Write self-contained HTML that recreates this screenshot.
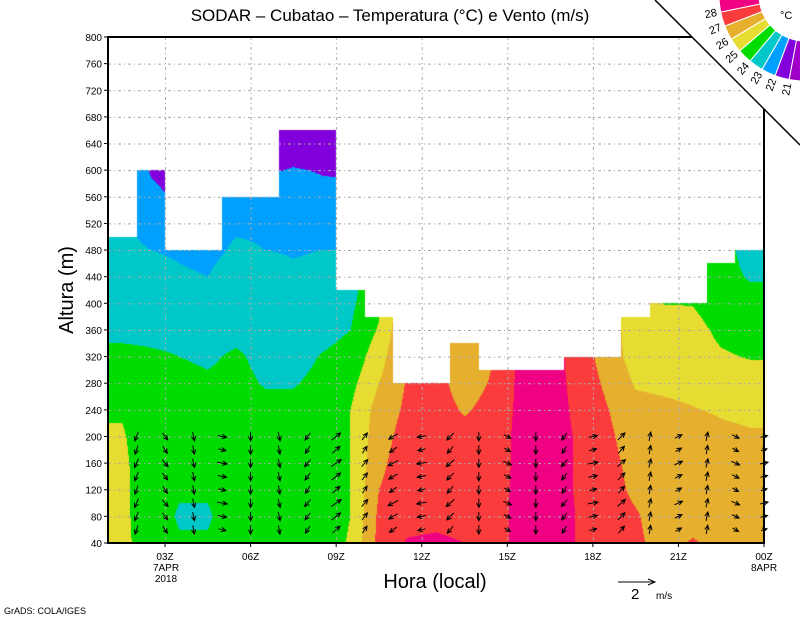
<!DOCTYPE html>
<html><head><meta charset="utf-8"><style>
body{margin:0;background:#fff;width:800px;height:618px;overflow:hidden;position:relative;font-family:"Liberation Sans",sans-serif}
svg{position:absolute;left:0;top:0}
canvas{position:absolute;left:0;top:0}
</style></head><body>
<canvas id="cv" width="800" height="618"></canvas>
<svg id="sv" width="800" height="618"></svg>
<script>
// ---- data ----
const hourStart = 1, hourEnd = 24;
const levels = [40,80,120,160,200,240,280,320,360,400,440,480,520,560,600,640,680];
const colTop = [500,600,480,480,560,560,660,660,420,380,280,280,340,300,300,300,320,320,380,400,400,460,480];
const T0  = [25.2,25.2,25.2,25.2,25.1,24.9,24.6,24.2,23.8,23.6,23.4,23.2,23.1];
const T1  = [24.6,24.5,24.5,24.4,24.4,24.3,24.2,24.1,23.8,23.6,23.3,23.0,22.7,22.3,21.9];
const T2  = [24.1,23.9,24.1,24.4,24.4,24.3,24.2,24.0,23.8,23.5,23.1,22.9,22.3,21.8,21.5];
const T3  = [24.1,23.9,24.1,24.4,24.3,24.2,24.1,23.9,23.7,23.4,23.0,22.8];
const T4  = [24.5,24.5,24.5,24.4,24.4,24.3,24.2,24.1,23.8,23.6,23.4,23.1,22.9,22.7];
const T5  = [24.5,24.5,24.4,24.4,24.3,24.2,23.95,23.8,23.6,23.4,23.3,23.0,22.9,22.7,21.9,21.6];
const T6  = [24.5,24.5,24.4,24.4,24.3,24.2,23.95,23.7,23.5,23.3,23.1,22.95,22.7,22.4,22.05,21.6,21.4];
const T7  = [24.5,24.5,24.5,24.4,24.4,24.3,24.2,24.05,23.7,23.4,23.2,23.0,22.6,22.2,21.95,21.6,21.4];
const T8  = [25.1,25.0,25.0,25.0,25.0,25.0,24.7,24.3,24.0,23.8,23.6,23.0,22.6,22.2,21.9,21.6];
const T9  = [27.3,27.2,27.0,26.8,26.6,26.4,26.0,25.6,25.1,24.8];
const T10 = [28.1,27.6,27.5,27.5,27.4,27.2,27.1];
const T11 = [28.2,27.7,27.6,27.6,27.5,27.4,27.3];
const T12 = [28.0,27.6,27.5,27.4,27.3,26.9,26.6,26.2,25.9];
const T13 = [27.6,27.6,27.6,27.5,27.5,27.3,27.1,27.0];
const T14 = [28.3,28.3,28.3,28.3,28.3,28.3,28.3,28.3];
const T15 = [28.4,28.4,28.4,28.4,28.4,28.4,28.4,28.4];
const T16 = [27.95,27.95,27.9,27.9,27.9,27.8,27.7,27.6];
const T17 = [27.5,27.5,27.4,27.3,27.2,27.05,26.8,26.5];
const T18 = [27.2,27.1,26.8,26.7,26.5,26.3,25.9,25.6,25.5,25.4];
const T19 = [26.6,26.5,26.5,26.5,26.5,26.2,25.8,25.5,25.3,24.98];
const T20 = [27.1,26.6,26.5,26.5,26.4,26.05,25.7,25.4,25.3,24.97];
const T21 = [26.7,26.5,26.4,26.3,26.2,25.9,25.5,25.1,24.8,24.5,24.2,24.2];
const T22 = [26.6,26.5,26.4,26.3,26.1,25.8,25.4,24.95,24.6,24.2,23.95,23.8];
const temps = [T0,T1,T2,T3,T4,T5,T6,T7,T8,T9,T10,T11,T12,T13,T14,T15,T16,T17,T18,T19,T20,T21,T22];
const bins = [21,22,23,24,25,26,27,28];
const colors = ['#a000c8','#8200dc','#00a0ff','#00c8c8','#00dc00','#e6dc32','#e6af2d','#fa3c3c','#f00082'];
const windHours = [2,3,4,5,6,7,8,9,10,11,12,13,14,15,16,17,18,19,20,21,22,23,24];
const windU = [-0.2,0.3,0.1,0.5,0.0,0.1,-0.3,0.5,0.3,-0.5,-0.5,-0.4,0.0,0.4,0.0,-0.3,0.5,0.4,0.1,0.4,0.1,0.4,0.4];
const windV = [-0.5,-0.4,-0.5,-0.1,-0.5,-0.5,-0.4,0.4,0.4,-0.3,-0.1,-0.4,-0.5,-0.2,-0.5,-0.4,0.1,0.4,0.5,0.2,0.5,-0.2,0.1];
const windLevels = [60,80,100,120,140,160,180,200];
const yTicks = [40,80,120,160,200,240,280,320,360,400,440,480,520,560,600,640,680,720,760,800];
const xTicks = [3,6,9,12,15,18,21,24];
const xTickLabels = ['03Z','06Z','09Z','12Z','15Z','18Z','21Z','00Z'];
const cbLabels = ['28','27','26','25','24','23','22','21'];

// ---- axes ----
const X0=108, X1=764, Y0=543, Y1=37;
const xs = h => X0 + (h-hourStart)/(hourEnd-hourStart)*(X1-X0);
const ys = m => Y0 - (m-40)/(800-40)*(Y0-Y1);
const hx = px => hourStart + (px-X0)/(X1-X0)*(hourEnd-hourStart);
const my = py => 40 + (Y0-py)/(Y0-Y1)*(800-40);

function tAt(c,r){const a=temps[c];return a[Math.min(r,a.length-1)];}
function hex(c){return [parseInt(c.substr(1,2),16),parseInt(c.substr(3,2),16),parseInt(c.substr(5,2),16)];}
const rgb = colors.map(hex);

// field
const cv=document.getElementById('cv'),ctx=cv.getContext('2d');
const img=ctx.createImageData(800,618);
const nC=temps.length;
for(let py=Y1;py<Y0;py++){
  const m=my(py+0.5);
  let rf=(m-40)/40; if(rf<0)rf=0; if(rf>levels.length-1)rf=levels.length-1;
  const r0=Math.floor(rf), r1=Math.min(r0+1,levels.length-1), fr=rf-r0;
  for(let px=X0;px<X1;px++){
    const h=hx(px+0.5);
    const col=Math.min(nC-1,Math.floor(h-hourStart));
    if(m>colTop[col])continue;
    let cf=(h-hourStart)-0.5; if(cf<0)cf=0; if(cf>nC-1)cf=nC-1;
    const c0=Math.floor(cf), c1=Math.min(c0+1,nC-1), fc=cf-c0;
    const v=(tAt(c0,r0)*(1-fc)+tAt(c1,r0)*fc)*(1-fr)+(tAt(c0,r1)*(1-fc)+tAt(c1,r1)*fc)*fr;
    let i=0;while(i<bins.length&&v>=bins[i])i++;
    const k=(py*800+px)*4;img.data[k]=rgb[i][0];img.data[k+1]=rgb[i][1];img.data[k+2]=rgb[i][2];img.data[k+3]=255;
  }
}
ctx.putImageData(img,0,0);

// svg
const NS='http://www.w3.org/2000/svg', sv=document.getElementById('sv');
function el(t,a,p){const e=document.createElementNS(NS,t);for(const k in a)e.setAttribute(k,a[k]);(p||sv).appendChild(e);return e;}
const grid=el('g',{stroke:'#aaa','stroke-width':1,'stroke-dasharray':'3,3,1,3'});


yTicks.forEach(v=>{if(v>40&&v<800)el('line',{x1:X0,x2:X1,y1:ys(v)+0.5,y2:ys(v)+0.5},grid);});
xTicks.forEach(v=>{if(v<24)el('line',{x1:xs(v)+0.5,x2:xs(v)+0.5,y1:Y1,y2:Y0},grid);});

// wind arrows
const wg=el('g',{stroke:'#000','stroke-width':1,fill:'none'});


const scale=35/2;
function arrow(x,y,u,v,g){
  const dx=u*scale,dy=-v*scale;const x1=x-dx/2,y1=y-dy/2,x2=x+dx/2,y2=y+dy/2;
  const a=Math.atan2(dy,dx),L=5;
  el('path',{d:`M${x1},${y1}L${x2},${y2}M${x2-L*Math.cos(a-0.45)},${y2-L*Math.sin(a-0.45)}L${x2},${y2}L${x2-L*Math.cos(a+0.45)},${y2-L*Math.sin(a+0.45)}`},g);
}
windHours.forEach((hh,i)=>{windLevels.forEach((lv,j)=>{
  const u=windU[i]*(1+0.15*((j%3)-1)), v=windV[i];
  const a=el('g',{},wg);
  
  
  arrow(xs(hh),ys(lv),u,v,a);
});});

// frame
const fr=el('rect',{x:X0,y:Y1,width:X1-X0,height:Y0-Y1,fill:'none',stroke:'#000','stroke-width':2});


const yl=el('g',{'font-size':10,'text-anchor':'end',fill:'#000'});


yTicks.forEach(v=>{const t=el('text',{x:102,y:ys(v)+4},yl);t.textContent=v;el('line',{x1:X0-4,x2:X0,y1:ys(v),y2:ys(v),stroke:'#000'},sv);});
const xl=el('g',{'font-size':10,'text-anchor':'middle',fill:'#000'});


xTicks.forEach((v,i)=>{const t=el('text',{x:xs(v),y:560},xl);t.textContent=xTickLabels[i];el('line',{x1:xs(v),x2:xs(v),y1:Y0,y2:Y0+4,stroke:'#000'},sv);});
[['7APR',166,571],['2018',166,582],['8APR',764,571]].forEach(d=>{const t=el('text',{x:d[1],y:d[2]},xl);t.textContent=d[0];});

// corner cut + colorbar
const cut=el('polygon',{points:'655,0 800,0 800,145',fill:'#fff'});


el('line',{x1:655,y1:0,x2:800,y2:145,stroke:'#000','stroke-width':1.5});
const cb=el('g',{});


const cx=805,cy=-5,ri=46,ro=86,aStart=178.2,step=9.7;
const rad=d=>d*Math.PI/180;
for(let i=0;i<9;i++){
  const a1=rad(aStart-step*i),a2=rad(aStart-step*(i+1));
  const p=(r,a)=>`${cx+r*Math.cos(a)},${cy+r*Math.sin(a)}`;
  const w=el('path',{d:`M${p(ri,a1)}L${p(ro,a1)}A${ro},${ro} 0 0 0 ${p(ro,a2)}L${p(ri,a2)}A${ri},${ri} 0 0 1 ${p(ri,a1)}Z`,fill:colors[8-i],stroke:'#fff','stroke-width':1},cb);
  
  
}
cbLabels.forEach((s,i)=>{const ang=aStart-step*(i+1);const r=96;const x=cx+r*Math.cos(rad(ang)),y=cy+r*Math.sin(rad(ang));
  const t=el('text',{x:x,y:y,'font-size':11,'text-anchor':'middle','dominant-baseline':'middle',transform:`rotate(${ang-180},${x},${y})`},cb);t.textContent=s;});
const dc=el('text',{x:780,y:19,'font-size':11},cb);dc.textContent='°C';
</script>
<svg width="800" height="618" style="pointer-events:none">
<text x="390" y="21" font-size="17" text-anchor="middle" font-family="Liberation Sans">SODAR – Cubatao – Temperatura (°C) e Vento (m/s)</text>
<text x="0" y="0" font-size="20" text-anchor="middle" transform="translate(73,290) rotate(-90)">Altura (m)</text>
<text x="435" y="588" font-size="20" text-anchor="middle">Hora (local)</text>
<g>
<path d="M618,582L655,582M648,579L655,582L648,585" stroke="#000" fill="none"/>
<text x="631" y="599" font-size="15">2</text>
<text x="656" y="599" font-size="10">m/s</text>
</g>
<text x="4" y="614" font-size="9">GrADS: COLA/IGES</text>
</svg>
</body></html>
